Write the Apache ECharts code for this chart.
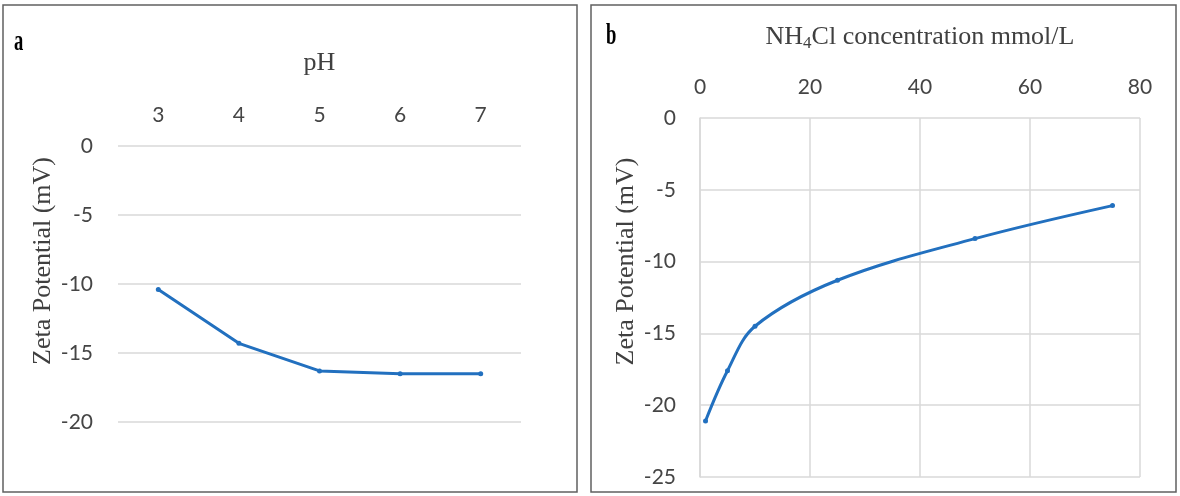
<!DOCTYPE html>
<html>
<head>
<meta charset="utf-8">
<script src="https://cdn.jsdelivr.net/npm/echarts@6/dist/echarts.min.js"></script>
<style>
html,body{margin:0;padding:0;background:#fff;}
#c{width:1180px;height:496px;}
</style>
</head>
<body>
<div id="c"></div>
<script>
// Panel a: zeta potential vs pH
var phCategories = ['3', '4', '5', '6', '7'];
var zetaVsPH = [-10.4, -14.3, -16.3, -16.5, -16.5];
var yTicksA = { min: -20, max: 0, interval: 5 };

// Panel b: zeta potential vs NH4Cl concentration (mmol/L)
var nh4clConc = [1, 5, 10, 25, 50, 75];
var zetaVsNH4Cl = [-21.1, -17.6, -14.5, -11.3, -8.4, -6.1];
var xTicksB = { min: 0, max: 80, interval: 20 };
var yTicksB = { min: -25, max: 0, interval: 5 };

var pairsB = nh4clConc.map(function (x, i) { return [x, zetaVsNH4Cl[i]]; });

var tickFont = { fontFamily: 'Lato', fontSize: 21, color: '#454545' };
var titleFont = 'Liberation Serif';
var lineColor = '#2270bf';
var gridColor = '#d9d9d9';

var chart = echarts.init(document.getElementById('c'), null, { renderer: 'canvas' });
chart.setOption({
  animation: false,
  backgroundColor: '#ffffff',
  grid: [
    { left: 118, right: 659, top: 146, bottom: 74 },
    { left: 700, right: 40, top: 118, bottom: 19 }
  ],
  xAxis: [
    {
      gridIndex: 0, type: 'category', position: 'top', data: phCategories,
      boundaryGap: true,
      axisLine: { show: false }, axisTick: { show: false },
      axisLabel: Object.assign({ margin: 20 }, tickFont),
      splitLine: { show: false },
      name: 'pH', nameLocation: 'middle', nameGap: 70,
      nameTextStyle: { fontFamily: titleFont, fontSize: 26, color: '#404040' }
    },
    {
      gridIndex: 1, type: 'value', position: 'top',
      min: xTicksB.min, max: xTicksB.max, interval: xTicksB.interval,
      axisLine: { show: false }, axisTick: { show: false },
      axisLabel: Object.assign({ margin: 20 }, tickFont),
      splitLine: { show: true, showMinLine: true, showMaxLine: true, lineStyle: { color: gridColor, width: 1.5 } },
      name: '{n|NH}{s|4}{n|Cl concentration mmol/L}', nameLocation: 'middle', nameGap: 66,
      nameTextStyle: {
        rich: {
          n: { fontFamily: titleFont, fontSize: 26, color: '#404040' },
          s: { fontFamily: titleFont, fontSize: 17, color: '#404040', verticalAlign: 'bottom', padding: [12, 0, 0, 0] }
        }
      }
    }
  ],
  yAxis: [
    {
      gridIndex: 0, type: 'value',
      min: yTicksA.min, max: yTicksA.max, interval: yTicksA.interval,
      axisLine: { show: false }, axisTick: { show: false },
      axisLabel: Object.assign({ margin: 25 }, tickFont),
      splitLine: { show: true, showMinLine: true, showMaxLine: true, lineStyle: { color: gridColor, width: 1.5 } },
      name: 'Zeta Potential (mV)', nameLocation: 'middle', nameGap: 62, nameRotate: 90,
      nameTextStyle: { fontFamily: titleFont, fontSize: 26, color: '#404040', padding: [0, 0, 0, 46] }
    },
    {
      gridIndex: 1, type: 'value',
      min: yTicksB.min, max: yTicksB.max, interval: yTicksB.interval,
      axisLine: { show: true, lineStyle: { color: gridColor, width: 1.5 } }, axisTick: { show: false },
      axisLabel: Object.assign({ margin: 24 }, tickFont),
      splitLine: { show: true, showMinLine: true, showMaxLine: true, lineStyle: { color: gridColor, width: 1.5 } },
      name: 'Zeta Potential (mV)', nameLocation: 'middle', nameGap: 61, nameRotate: 90,
      nameTextStyle: { fontFamily: titleFont, fontSize: 26, color: '#404040', padding: [0, 0, 0, 72] }
    }
  ],
  series: [
    {
      type: 'line', xAxisIndex: 0, yAxisIndex: 0, data: zetaVsPH,
      symbol: 'circle', symbolSize: 5, showSymbol: true,
      lineStyle: { color: lineColor, width: 3 },
      itemStyle: { color: lineColor }
    },
    {
      type: 'line', xAxisIndex: 1, yAxisIndex: 1, data: pairsB,
      smooth: 0.35,
      symbol: 'circle', symbolSize: 5, showSymbol: true,
      lineStyle: { color: lineColor, width: 3 },
      itemStyle: { color: lineColor }
    }
  ],
  graphic: [
    { type: 'rect', shape: { x: 3, y: 5, width: 574, height: 487 }, style: { fill: null, stroke: '#606060', lineWidth: 1.5 }, silent: true },
    { type: 'rect', shape: { x: 591, y: 5, width: 585, height: 487 }, style: { fill: null, stroke: '#606060', lineWidth: 1.5 }, silent: true },
    { type: 'text', left: 14, top: 27, scaleX: 0.62, style: { text: 'a', fontFamily: titleFont, fontWeight: 'bold', fontSize: 30, fill: '#000' } },
    { type: 'text', left: 606, top: 21, scaleX: 0.62, style: { text: 'b', fontFamily: titleFont, fontWeight: 'bold', fontSize: 30, fill: '#000' } }
  ]
});
</script>
</body>
</html>
